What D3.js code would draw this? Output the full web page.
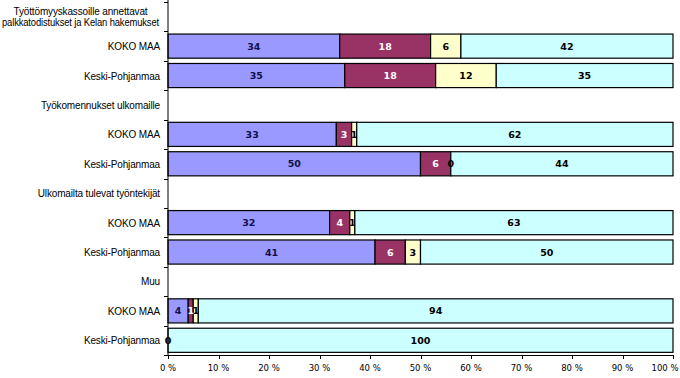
<!DOCTYPE html>
<html>
<head>
<meta charset="utf-8">
<script src="https://cdn.jsdelivr.net/npm/d3@7"></script>
<style>
  body { margin: 0; background: #fff; }
  svg { display: block; }
</style>
</head>
<body>
<svg width="680" height="378"></svg>
<script>
// rows from top to bottom; header rows have no values
const rows = [
  'Työttömyyskassoille annettavat|palkkatodistukset ja Kelan hakemukset',
  'KOKO MAA', 'Keski-Pohjanmaa',
  'Työkomennukset ulkomaille',
  'KOKO MAA', 'Keski-Pohjanmaa',
  'Ulkomailta tulevat työntekijät',
  'KOKO MAA', 'Keski-Pohjanmaa',
  'Muu',
  'KOKO MAA', 'Keski-Pohjanmaa'
];
const series = ['s1', 's2', 's3', 's4'];
const s1 = [null, 34, 35, null, 33, 50, null, 32, 41, null, 4, 0];
const s2 = [null, 18, 18, null, 3, 6, null, 4, 6, null, 1, 0];
const s3 = [null, 6, 12, null, 1, 0, null, 1, 3, null, 1, 0];
const s4 = [null, 42, 35, null, 62, 44, null, 63, 50, null, 94, 100];
const ticks = [0, 10, 20, 30, 40, 50, 60, 70, 80, 90, 100];

const fills = ['#9999ff', '#993366', '#ffffcc', '#ccffff'];
const labelColors = ['#10104a', '#ffffff', '#000000', '#000000'];

const svg = d3.select('svg');
const pLeft = 168, pRight = 673, pTop = 2, pBottom = 355;

const table = rows.map((r, i) => ({ row: i, s1: s1[i], s2: s2[i], s3: s3[i], s4: s4[i] }))
  .filter(d => d.s1 !== null);

const stack = d3.stack().keys(series).offset(d3.stackOffsetExpand);
const layers = stack(table);

const x = d3.scaleLinear().domain([0, 1]).range([pLeft, pRight]);
const y = d3.scaleBand().domain(d3.range(rows.length)).range([pTop, pBottom]).paddingInner(0.18).paddingOuter(0.09);
const yb = d3.scaleBand().domain(d3.range(rows.length)).range([pTop, pBottom]);

// bars
svg.append('g')
  .selectAll('g')
  .data(layers)
  .join('g')
  .style('fill', (d, i) => fills[i])
  .selectAll('rect')
  .data(d => d)
  .join('rect')
  .attr('x', d => x(d[0]))
  .attr('y', d => y(d.data.row))
  .attr('width', d => x(d[1]) - x(d[0]))
  .attr('height', y.bandwidth())
  .style('stroke', '#000')
  .style('stroke-width', 1.2);

// value labels
svg.append('g')
  .selectAll('g')
  .data(layers)
  .join('g')
  .style('fill', (d, i) => labelColors[i])
  .selectAll('text')
  .data(d => d.map(p => ({ p, key: d.key })))
  .join('text')
  .attr('x', d => x((d.p[0] + d.p[1]) / 2))
  .attr('y', d => y(d.p.data.row) + y.bandwidth() / 2 + 3.5)
  .attr('text-anchor', 'middle')
  .style('font-family', 'Verdana, "DejaVu Sans", sans-serif')
  .style('font-size', '9.5px')
  .style('font-weight', 'bold')
  .text(d => d.p.data[d.key]);

// left axis line and ticks
const axisG = svg.append('g').style('stroke', '#000');
axisG.append('line')
  .attr('x1', pLeft).attr('x2', pLeft)
  .attr('y1', 0).attr('y2', pBottom + 0.5);
axisG.selectAll('line.yt')
  .data(d3.range(rows.length + 1))
  .join('line')
  .attr('class', 'yt')
  .attr('x1', pLeft - 4).attr('x2', pLeft)
  .attr('y1', i => Math.round(pTop + i * yb.step()) + 0.5)
  .attr('y2', i => Math.round(pTop + i * yb.step()) + 0.5);

// bottom axis
const xAxis = d3.scaleLinear().domain([0, 100]).range([pLeft, pRight]);
axisG.append('line')
  .attr('x1', pLeft).attr('x2', pRight)
  .attr('y1', pBottom + 0.5).attr('y2', pBottom + 0.5);
axisG.selectAll('line.xt')
  .data(ticks)
  .join('line')
  .attr('class', 'xt')
  .attr('x1', d => Math.round(xAxis(d)) + 0.5)
  .attr('x2', d => Math.round(xAxis(d)) + 0.5)
  .attr('y1', pBottom).attr('y2', pBottom + 4);

svg.append('g')
  .selectAll('text')
  .data(ticks)
  .join('text')
  .attr('x', d => Math.min(xAxis(d), 665))
  .attr('y', 371)
  .attr('text-anchor', 'middle')
  .style('font-family', 'Verdana, "DejaVu Sans", sans-serif')
  .style('font-size', '8.5px')
  .text(d => d + ' %');

// category labels
const cat = svg.append('g')
  .style('font-family', 'Arial, "Liberation Sans", sans-serif')
  .style('font-size', '10px')
  .style('letter-spacing', '-0.15px')
  .style('fill', '#000');
rows.forEach((r, i) => {
  const cy = yb(i) + yb.bandwidth() / 2;
  const parts = r.split('|');
  if (parts.length === 1) {
    cat.append('text')
      .attr('x', 160)
      .attr('y', cy + 4)
      .attr('text-anchor', 'end')
      .text(r);
  } else {
    parts.forEach((p, j) => {
      const t = cat.append('text')
        .attr('x', 80.5)
        .attr('y', cy + 4 + (j - 0.5) * 11)
        .attr('text-anchor', 'middle')
        .text(p);
      if (t.node().getComputedTextLength() > 157) {
        t.attr('textLength', 157).attr('lengthAdjust', 'spacingAndGlyphs');
      }
    });
  }
});
</script>
</body>
</html>
